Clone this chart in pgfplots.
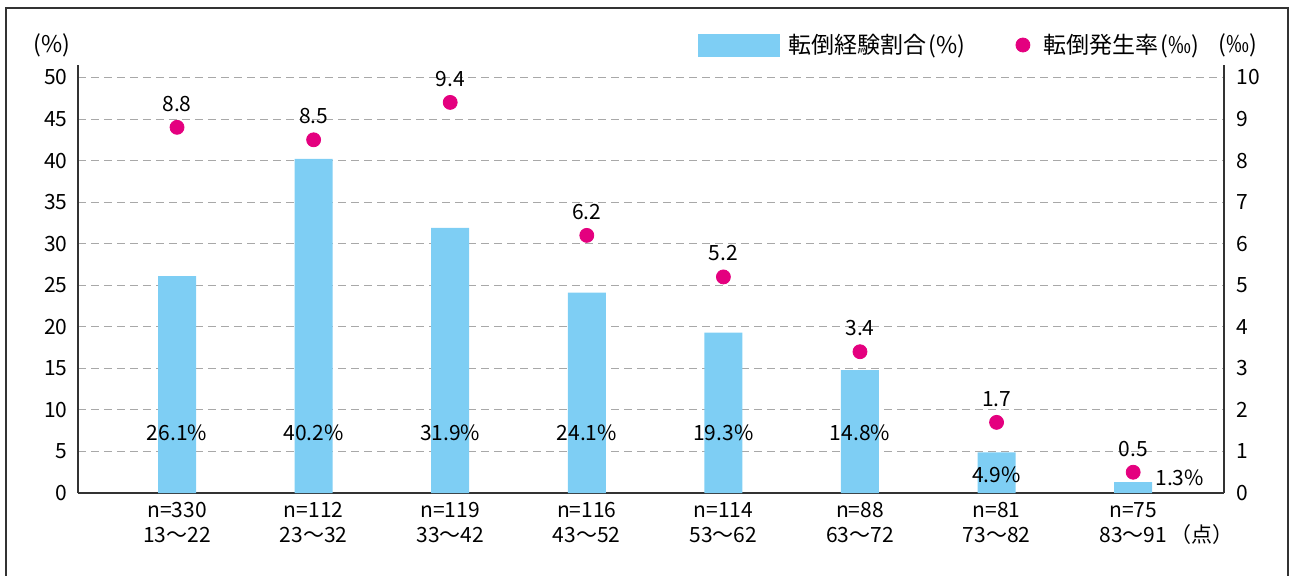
\documentclass[border=0pt]{standalone}
\usepackage{fontspec}
\setmainfont{Noto Sans CJK JP}
\usepackage{pgfplots}
\pgfplotsset{compat=1.18}
\definecolor{barblue}{HTML}{7ECEF4}
\definecolor{dotmag}{HTML}{E4007F}
\definecolor{axgray}{HTML}{333333}
\definecolor{gridgray}{HTML}{A8A8A8}
\newcommand{\lbl}{\fontsize{10.5}{12.5}\selectfont}
\newcommand{\lgd}{\fontsize{11.5}{13}\selectfont}
\begin{document}
\lbl
\begin{tikzpicture}
\useasboundingbox (-39pt,-41pt) rectangle (607pt,246.5pt);
\draw[axgray, line width=0.8pt] (-36pt,-45pt) -- (-36pt,242.5pt) -- (605pt,242.5pt) -- (605pt,-45pt);
\begin{axis}[
  at={(0pt,0pt)}, anchor=south west, scale only axis,
  width=573pt, height=214pt,
  xmin=-0.725, xmax=7.665, ymin=0, ymax=51.5,
  axis x line*=bottom, axis y line*=left,
  axis line style={axgray, line width=0.6pt, -},
  ytick={0,5,...,50},
  xtick={0,...,7},
  xticklabels={{n=330\\13〜22},{n=112\\23〜32},{n=119\\33〜42},{n=116\\43〜52},{n=114\\53〜62},{n=88\\63〜72},{n=81\\73〜82},{n=75\\83〜91\rlap{\,（点）}}},
  xticklabel style={align=center, font=\lbl, yshift=-1pt},
  yticklabel style={font=\lbl, xshift=-1.5pt},
  /pgf/number format/assume math mode=true,
  major tick length=0pt,
  ymajorgrids,
  grid style={gridgray, dash pattern=on 4pt off 2.5pt, line width=0.5pt},
  clip=false,
]
\addplot[ybar, bar width=0.278, fill=barblue, draw=none] coordinates {
  (0,26.1) (1,40.2) (2,31.9) (3,24.1) (4,19.3) (5,14.8) (6,4.9) (7,1.3)
};
\addplot[only marks, mark=none, nodes near coords, point meta=explicit symbolic,
  every node near coord/.append style={anchor=center, font=\lbl, inner sep=0pt}] coordinates {
  (0,7.23) [26.1\%] (1,7.23) [40.2\%] (2,7.23) [31.9\%] (3,7.23) [24.1\%]
  (4,7.23) [19.3\%] (5,7.23) [14.8\%] (6,2.17) [4.9\%] (7.34,1.8) [1.3\%]
};
\node[font=\lgd] at (axis description cs:-0.0227,1.0467) {(\%)};
\node[font=\lgd] at (axis description cs:1.012,1.0467) {(‰)};
\end{axis}
\begin{axis}[
  at={(0pt,0pt)}, anchor=south west, scale only axis,
  width=573pt, height=214pt,
  xmin=-0.725, xmax=7.665, ymin=0, ymax=10.3,
  axis y line*=right, axis x line=none,
  axis line style={axgray, line width=0.6pt, -},
  ytick={0,...,10},
  yticklabel style={font=\lbl, xshift=2.5pt},
  /pgf/number format/assume math mode=true,
  major tick length=0pt,
  clip=false,
  legend columns=2,
  legend style={draw=none, fill=none, inner sep=0pt, outer sep=0pt,
    at={(axis description cs:0.541,1.0467)}, anchor=west, font=\lgd,
    /tikz/every odd column/.append style={column sep=2.5pt},
    /tikz/every even column/.append style={column sep=23pt}},
]
\addlegendimage{legend image code/.code={\fill[barblue] (0pt,-5.5pt) rectangle (40.5pt,5.5pt);}}
\addlegendentry{転倒経験割合\kern1pt(\%)}
\addplot[only marks, mark=*, mark size=3.5pt, color=dotmag,
  legend image code/.code={\fill[dotmag] (0pt,0pt) circle (3.5pt); \path (5.5pt,0pt);},
  nodes near coords, point meta=explicit symbolic,
  every node near coord/.append style={anchor=base, yshift=8pt, font=\lbl, inner sep=0pt, text=black}] coordinates {
  (0,8.8) [8.8] (1,8.5) [8.5] (2,9.4) [9.4] (3,6.2) [6.2] (4,5.2) [5.2] (5,3.4) [3.4] (6,1.7) [1.7] (7,0.5) [0.5]
};
\addlegendentry{転倒発生率\kern1pt(‰)}
\end{axis}
\end{tikzpicture}
\end{document}
